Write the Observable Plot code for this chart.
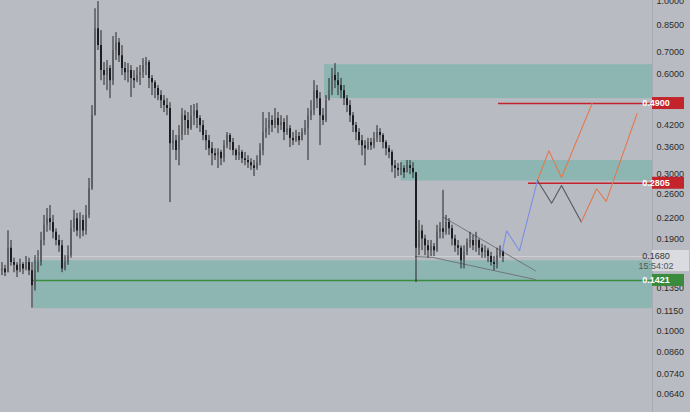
<!DOCTYPE html>
<html><head><meta charset="utf-8">
<script src="https://cdn.jsdelivr.net/npm/d3@7"></script>
<script src="https://cdn.jsdelivr.net/npm/@observablehq/plot@0.6"></script>
<style>
html,body{margin:0;padding:0;background:#b9bbc2;}
#chart{width:690px;height:412px;overflow:hidden}
</style></head><body><div id="chart"></div>
<script>
// candle closes / highs / lows (price), open = previous close
const firstOpen = 0.152;
const closes = [
.154,.150,.178,.161,.158,.152,.159,.154,.161,.152,
.137,.152,.161,.188,.209,.219,.213,.199,.188,.181,
.154,.161,.169,.204,.219,.201,.216,.201,.224,.270,
.450,.827,.735,.617,.596,.626,.575,.710,.750,.685,
.626,.608,.617,.584,.575,.596,.608,.639,.653,.584,
.567,.544,.518,.500,.483,.473,.370,.378,.353,.392,
.450,.435,.411,.450,.466,.441,.420,.392,.378,.357,
.345,.340,.348,.333,.365,.392,.373,.353,.340,.348,
.333,.329,.324,.317,.311,.324,.353,.400,.411,.435,
.420,.441,.420,.429,.400,.411,.384,.378,.389,.378,
.400,.411,.450,.466,.536,.507,.450,.435,.500,.536,
.596,.575,.556,.536,.507,.483,.450,.420,.400,.378,
.365,.357,.373,.365,.384,.400,.392,.373,.357,.348,
.317,.311,.307,.311,.302,.317,.311,.302,.178,.201,
.190,.181,.175,.180,.175,.199,.204,.199,.213,.204,
.190,.181,.178,.163,.173,.185,.188,.181,.188,.178,
.173,.175,.168,.161,.159,.169,.173,.168];
const highs = [
.161,.158,.201,.188,.166,.161,.165,.161,.168,.166,
.161,.169,.175,.199,.224,.235,.240,.224,.204,.195,
.188,.169,.181,.216,.232,.227,.228,.224,.240,.290,
.483,.951,1.00,.816,.653,.662,.639,.783,.805,.772,
.735,.653,.648,.639,.617,.630,.639,.671,.676,.662,
.596,.575,.556,.536,.518,.507,.493,.406,.392,.420,
.473,.466,.460,.483,.487,.490,.450,.435,.406,.392,
.373,.357,.357,.353,.378,.400,.397,.384,.357,.365,
.353,.348,.340,.333,.329,.340,.370,.460,.441,.460,
.450,.473,.460,.450,.441,.450,.420,.400,.406,.400,
.411,.435,.473,.500,.575,.556,.529,.473,.518,.584,
.626,.648,.608,.584,.556,.518,.500,.460,.429,.411,
.392,.378,.384,.384,.400,.420,.411,.397,.378,.365,
.353,.329,.322,.324,.317,.329,.329,.324,.302,.216,
.209,.195,.188,.188,.184,.209,.213,.267,.224,.219,
.209,.195,.188,.181,.181,.190,.199,.195,.199,.190,
.183,.181,.178,.173,.168,.178,.181,.175];
const lows = [
.147,.146,.150,.157,.150,.145,.150,.148,.152,.147,
.117,.132,.150,.157,.181,.199,.201,.190,.181,.173,
.150,.152,.158,.166,.199,.193,.190,.193,.195,.219,
.267,.450,.710,.575,.556,.536,.507,.556,.662,.653,
.596,.575,.567,.511,.544,.567,.556,.584,.596,.544,
.518,.507,.500,.473,.460,.450,.245,.353,.329,.317,
.378,.392,.392,.406,.420,.411,.400,.378,.353,.340,
.317,.329,.311,.317,.324,.357,.353,.340,.329,.329,
.322,.317,.311,.307,.294,.307,.317,.340,.384,.392,
.400,.411,.397,.406,.378,.392,.360,.365,.373,.365,
.378,.392,.329,.435,.450,.473,.365,.420,.429,.500,
.518,.544,.518,.507,.483,.460,.429,.400,.378,.365,
.340,.317,.353,.353,.357,.373,.373,.357,.340,.333,
.302,.290,.294,.296,.290,.302,.298,.290,.140,.169,
.175,.169,.166,.168,.168,.173,.190,.190,.195,.195,
.181,.173,.169,.154,.154,.169,.178,.175,.173,.169,
.166,.166,.161,.157,.152,.154,.166,.161];

// price axis ticks
const tickValues = [1.0,0.85,0.70,0.60,0.42,0.36,0.30,0.26,0.22,0.19,0.135,0.115,0.10,0.086,0.074,0.064];

// zones (bar index start, top, bottom)
const zoneStart = [11, 108, 133.5];
const zoneTop = [0.163, 0.643, 0.329];
const zoneBottom = [0.1166, 0.507, 0.285];

// horizontal levels
const levelValues = [0.49, 0.2805, 0.1421];
const levelStart = [166, 176, 11];
const levelColors = ["#c3242b", "#c3242b", "#3a8b3e"];
const currentPrice = 0.168;
const currentTime = "15:54:02";

// wedge lines
const wedgeUpperX = [147.7, 178.3], wedgeUpperY = [0.221, 0.152];
const wedgeLowerX = [138.3, 144, 178.3], wedgeLowerY = [0.168, 0.167, 0.143];

// projection paths
const blueX = [167.3, 168.7, 173, 179], blueY = [0.175, 0.201, 0.175, 0.286];
const orange1X = [179, 182.8, 187, 197.2], orange1Y = [0.286, 0.352, 0.292, 0.490];
const grayX = [179, 183.7, 187, 193.6], grayY = [0.286, 0.244, 0.276, 0.214];
const orange2X = [193.6, 198.7, 201.9, 212.2], orange2Y = [0.214, 0.270, 0.247, 0.457];

const xMax = 652 / 3;
const fmt = d3.format(".4f");
const font = "Liberation Sans, Arial, sans-serif";
const candles = closes.map((c, i) => ({
  x: i + 0.5, open: i === 0 ? firstOpen : closes[i - 1], close: c, high: highs[i], low: lows[i]
}));
const zones = zoneStart.map((s, i) => ({x1: s, x2: xMax, y1: zoneBottom[i], y2: zoneTop[i]}));
const levels = levelValues.map((v, i) => ({v, x1: levelStart[i], x2: xMax, c: levelColors[i]}));
const pts = (xs, ys, k) => xs.map((x, i) => ({x, y: ys[i], k}));
const wedge = [...pts(wedgeUpperX, wedgeUpperY, "u"), ...pts(wedgeLowerX, wedgeLowerY, "l")];

const chart = Plot.plot({
  width: 690, height: 412,
  marginLeft: 0, marginRight: 38, marginTop: 0, marginBottom: 0,
  style: {background: "#b9bbc2", fontFamily: font, fontSize: "9px", color: "#2b2b2b"},
  x: {domain: [0, xMax], axis: null},
  y: {type: "log", domain: [0.0564, 1.0077], label: null, axis: null},
  marks: [
    Plot.rect(zones, {x1: "x1", x2: "x2", y1: "y1", y2: "y2", fill: "#8db6b3"}),
    Plot.ruleY([currentPrice], {x1: () => zoneStart[0], x2: () => xMax, stroke: "#cfd1d6", strokeWidth: 1, strokeOpacity: 0.9}),
    Plot.ruleY(levels, {y: "v", x1: "x1", x2: "x2", stroke: d => d.c, strokeWidth: 1.6}),
    Plot.line(wedge, {x: "x", y: "y", z: "k", stroke: "#6d6f78", strokeWidth: 0.9}),
    Plot.ruleX(candles, {x: "x", y1: "low", y2: "high", stroke: "#26272b", strokeWidth: 1}),
    Plot.ruleX(candles, {filter: d => d.close >= d.open, x: "x", y1: "open", y2: "close", stroke: "#5e6066", strokeWidth: 2}),
    Plot.ruleX(candles, {filter: d => d.close < d.open, x: "x", y1: "open", y2: "close", stroke: "#1d1e21", strokeWidth: 2}),
    Plot.line(pts(blueX, blueY), {x: "x", y: "y", stroke: "#7b8ee0", strokeWidth: 1.1}),
    Plot.line(pts(orange1X, orange1Y), {x: "x", y: "y", stroke: "#e07a50", strokeWidth: 1.1}),
    Plot.line(pts(grayX, grayY), {x: "x", y: "y", stroke: "#55575e", strokeWidth: 1.1}),
    Plot.line(pts(orange2X, orange2Y), {x: "x", y: "y", stroke: "#e07a50", strokeWidth: 1.1}),
    Plot.frame({anchor: "right", stroke: "#a8aab1"}),
    Plot.text(tickValues, {x: () => xMax, y: d => d, text: d => fmt(d), textAnchor: "start", dx: 4, fill: "#2b2b2b", fontSize: 9})
  ]
});
document.getElementById("chart").appendChild(chart);

// price labels on the axis
const ys = chart.scale("y");
const svg = d3.select(chart);
const axisX = 690 - 38;
const gy = ys.apply(currentPrice);
svg.append("rect").attr("x", axisX).attr("y", gy - 6).attr("width", 37).attr("height", 21).attr("fill", "#d9dbe0");
svg.append("text").attr("x", axisX + 4).attr("y", gy).attr("dy", "0.35em").attr("fill", "#333").attr("font-size", 9).attr("font-family", font).text(fmt(currentPrice));
svg.append("text").attr("x", axisX + 4).attr("y", gy + 10).attr("dy", "0.35em").attr("fill", "#555").attr("font-size", 9).attr("font-family", font).text(currentTime);
levels.forEach(l => {
  const y = ys.apply(l.v);
  svg.append("rect").attr("x", axisX).attr("y", y - 6).attr("width", 32).attr("height", 12).attr("fill", l.c);
  svg.append("text").attr("x", axisX + 4).attr("y", y).attr("dy", "0.35em").attr("fill", "#fff").attr("font-weight", "bold").attr("font-size", 9).attr("font-family", font).text(fmt(l.v));
});
</script></body></html>
